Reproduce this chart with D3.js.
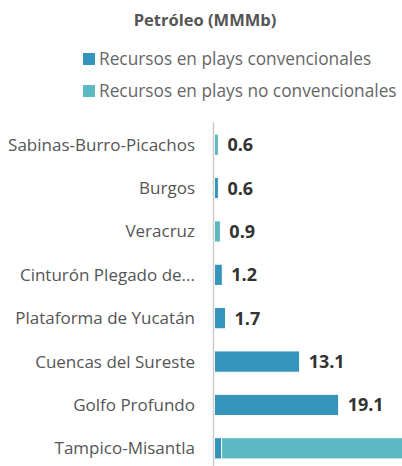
<!DOCTYPE html>
<html>
<head>
<meta charset="utf-8">
<script src="https://cdn.jsdelivr.net/npm/d3@7"></script>
<style>
body { margin: 0; background: #fff; }
svg { display: block; font-family: "Open Sans", sans-serif; }
.title { font-weight: bold; font-size: 16.5px; fill: #555; }
.legend text { font-size: 17.3px; fill: #666; }
.cat { font-size: 17px; fill: #555; }
.val { font-size: 18px; font-weight: bold; fill: #333; }
</style>
</head>
<body>
<svg id="chart" width="402" height="466"></svg>
<script>
var categories = ["Sabinas-Burro-Picachos", "Burgos", "Veracruz", "Cinturón Plegado de Chiapas",
    "Plataforma de Yucatán", "Cuencas del Sureste", "Golfo Profundo", "Tampico-Misantla"];
var convencional   = [0, 0.6, 0, 1.2, 1.7, 13.1, 19.1, 1.1];
var noConvencional = [0.6, 0, 0.9, 0, 0, 0, 0, 34.8];
var seriesNames = ["Recursos en plays convencionales", "Recursos en plays no convencionales"];
var colors = ["#3494bb", "#5bb8c1"];

var svg = d3.select("#chart"),
    width = +svg.attr("width");

var rows = categories.map(function(c, i) {
    return { cat: c, conv: convencional[i], noconv: noConvencional[i] };
});

var stack = d3.stack().keys(["conv", "noconv"])(rows);

var x = d3.scaleLinear().domain([0, 30]).range([214.5, 409.5]);
var y = d3.scaleBand().domain(categories).range([123, 470])
    .paddingInner(0.51).paddingOuter(0.255);

// title
svg.append("text")
    .attr("class", "title")
    .attr("x", 205).attr("y", 26)
    .attr("text-anchor", "middle")
    .text("Petróleo (MMMb)");

// legend
var legend = svg.append("g").attr("class", "legend")
    .selectAll("g").data(seriesNames).enter().append("g")
    .attr("transform", function(d, i) { return "translate(83," + (53 + i * 32) + ")"; });
legend.append("rect").attr("width", 12).attr("height", 12)
    .attr("fill", function(d, i) { return colors[i]; });
legend.append("text").attr("x", 16).attr("y", 11.5).text(function(d) { return d; });

// bars
svg.append("g").selectAll("g").data(stack).enter().append("g")
    .attr("fill", function(d, i) { return colors[i]; })
  .selectAll("rect").data(function(d) { return d; }).enter().append("rect")
    .filter(function(d) { return d[1] > d[0]; })
    .attr("x", function(d) { return x(d[0]); })
    .attr("y", function(d) { return y(d.data.cat); })
    .attr("width", function(d) { return x(d[1]) - x(d[0]); })
    .attr("height", y.bandwidth())
    .attr("stroke", "#fff")
    .attr("stroke-width", 1);

// axis line
svg.append("line")
    .attr("x1", x(0) - 1).attr("x2", x(0) - 1)
    .attr("y1", 122).attr("y2", 466)
    .attr("stroke", "#ccc").attr("stroke-width", 1.5);

// category labels, shortened with an ellipsis if too long
var maxW = 190;
svg.append("g").selectAll("text").data(categories).enter().append("text")
    .attr("class", "cat")
    .attr("x", 195)
    .attr("y", function(d) { return y(d) + y.bandwidth() / 2; })
    .attr("dy", "0.35em")
    .attr("text-anchor", "end")
    .text(function(d) { return d; })
    .each(function(d) {
        var t = d3.select(this), s = d;
        while (this.getComputedTextLength() > maxW && s.length > 1) {
            s = s.slice(0, -1);
            t.text(s.trim() + "...");
        }
    });

// value labels (ones that would fall outside the plot are hidden, like the original)
svg.append("g").selectAll("text")
    .data(rows.filter(function(d) { return x(d.conv + d.noconv) + 9 < width; }))
    .enter().append("text")
    .attr("class", "val")
    .attr("x", function(d) { return x(d.conv + d.noconv) + 9; })
    .attr("y", function(d) { return y(d.cat) + y.bandwidth() / 2; })
    .attr("dy", "0.36em")
    .text(function(d) { return d3.format(".1f")(d.conv + d.noconv); });
</script>
</body>
</html>
